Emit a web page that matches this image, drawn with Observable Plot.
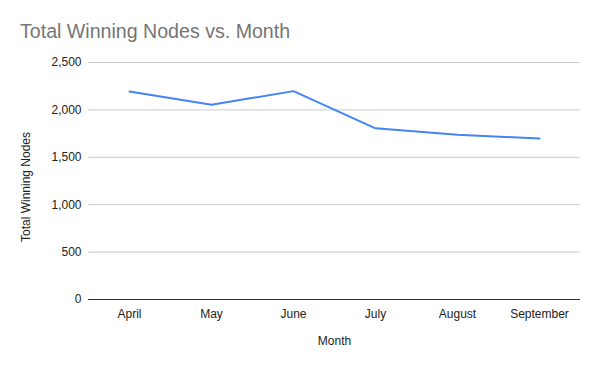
<!DOCTYPE html>
<html>
<head>
<meta charset="utf-8">
<script src="https://cdn.jsdelivr.net/npm/d3@7"></script>
<script src="https://cdn.jsdelivr.net/npm/@observablehq/plot@0.6"></script>
<style>
  html, body { margin: 0; padding: 0; background: #fff; }
  #wrap { position: relative; width: 600px; height: 371px; font-family: "Liberation Sans", Arial, sans-serif; }
  #title { position: absolute; left: 20px; top: 19px; font-size: 19.6px; color: #757575; line-height: 24px; white-space: nowrap; }
  #chart { position: absolute; left: 0; top: 0; }
</style>
</head>
<body>
<div id="wrap">
  <div id="chart"></div>
  <div id="title">Total Winning Nodes vs. Month</div>
</div>
<script>
const months = ["April", "May", "June", "July", "August", "September"];
const winningNodes = [2195, 2055, 2198, 1806, 1737, 1698];
const yTicks = [0, 500, 1000, 1500, 2000, 2500];
const yLabel = "Total Winning Nodes";
const xLabel = "Month";

const data = months.map((m, i) => ({month: m, value: winningNodes[i]}));

const chart = Plot.plot({
  width: 600,
  height: 371,
  marginLeft: 88,
  marginRight: 20,
  marginTop: 62,
  marginBottom: 72,
  style: {fontFamily: "'Liberation Sans', Arial, sans-serif", fontSize: "12px", color: "#222", background: "#fff"},
  x: {type: "point", domain: months, padding: 0.5},
  y: {domain: [0, 2500]},
  marks: [
    Plot.gridY(yTicks.filter(d => d > 0), {stroke: "#cccccc", strokeOpacity: 1, strokeWidth: 1}),
    Plot.ruleY([0], {stroke: "#333333", strokeWidth: 1}),
    Plot.axisY(yTicks, {tickSize: 0, tickPadding: 7, tickFormat: d3.format(","), label: null, fill: "#222"}),
    Plot.axisX({tickSize: 0, tickPadding: 10, label: null, fill: "#222"}),
    Plot.text([yLabel], {frameAnchor: "left", textAnchor: "middle", rotate: -90, dx: -62, dy: 6, fill: "#222", fontSize: 12}),
    Plot.text([xLabel], {frameAnchor: "bottom", dy: 45, fill: "#222", fontSize: 12}),
    Plot.line(data, {x: "month", y: "value", stroke: "#4285F4", strokeWidth: 2})
  ]
});
document.getElementById("chart").appendChild(chart);
</script>
</body>
</html>
